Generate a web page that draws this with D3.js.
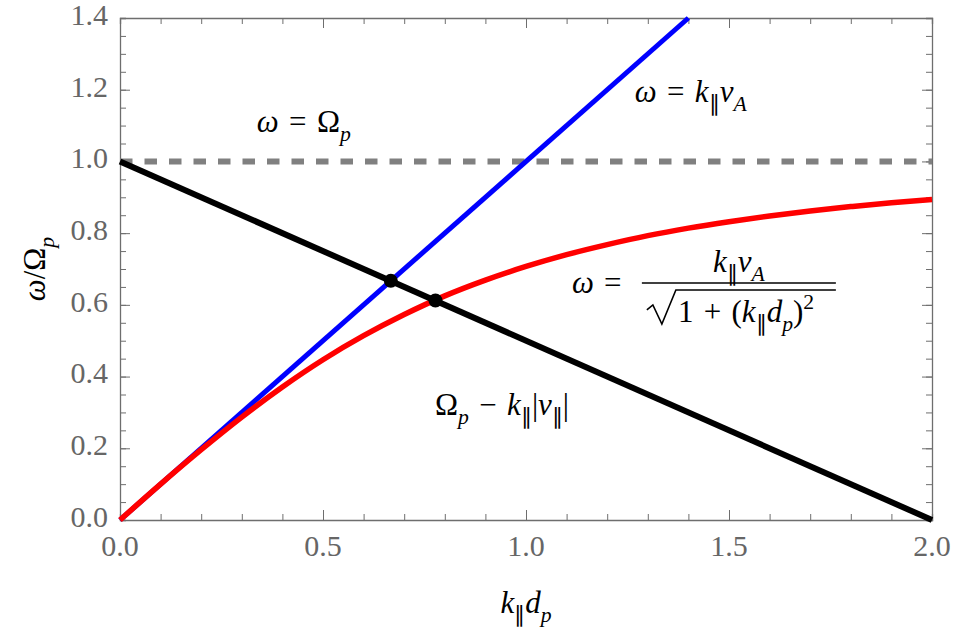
<!DOCTYPE html>
<html>
<head>
<meta charset="utf-8">
<script src="https://cdn.jsdelivr.net/npm/d3@7"></script>
<style>
  body { margin: 0; background: #fff; }
  #chart { position: relative; width: 956px; height: 637px; }
  svg { display: block; position: absolute; left: 0; top: 0; }
  .lbl { position: absolute; white-space: pre; line-height: 1; font-family: "Liberation Serif"; color: #000; }
  .tk { color: #666; }
  .sb { position: relative; top: 0.43em; font-size: 0.7em; }
  .sp { position: relative; top: -0.6em; font-size: 0.7em; }
</style>
</head>
<body>
<div id="chart"></div>
<script>
// values
const xTicks = [0, 0.5, 1.0, 1.5, 2.0];
const yTicks = [0, 0.2, 0.4, 0.6, 0.8, 1.0, 1.2, 1.4];

// k d_p samples, and the dispersive (red) curve
const kd = [0, 0.1, 0.2, 0.3, 0.4, 0.5, 0.6, 0.7, 0.8, 0.9, 1.0,
            1.1, 1.2, 1.3, 1.4, 1.5, 1.6, 1.7, 1.8, 1.9, 2.0];
const dispersive = [0, 0.10, 0.196, 0.287, 0.371, 0.447, 0.514, 0.573, 0.625, 0.669, 0.707,
                    0.740, 0.768, 0.793, 0.814, 0.832, 0.848, 0.862, 0.874, 0.885, 0.894];

// straight lines: end points
const alfven = [[0, 0], [1.4, 1.4]];
const resonance = [[0, 1.0], [2.0, 0]];
const cyclotron = [[0, 1.0], [2.0, 1.0]];

// crossing points
const crossings = [[0.667, 0.667], [0.777, 0.612]];

const width = 956, height = 637;
const margin = { top: 18, right: 24, bottom: 117, left: 120 };
const innerW = width - margin.left - margin.right;
const innerH = height - margin.top - margin.bottom;

const chart = d3.select('#chart');
const svg = chart.append('svg')
  .attr('width', width)
  .attr('height', height);

const x = d3.scaleLinear().domain([0, 2]).range([0, innerW]);
const y = d3.scaleLinear().domain([0, 1.4]).range([innerH, 0]);
// page coordinates, for the html labels
const px = v => margin.left + x(v);
const py = v => margin.top + y(v);

const g = svg.append('g')
  .attr('transform', `translate(${margin.left},${margin.top})`);

// frame ticks (inside, on all four sides), no text in these
const minorX = d3.range(0, 2.0001, 0.1);
const minorY = d3.range(0, 1.4001, 0.05);
const axisColor = '#6e6e6e';

function frameAxis(makeAxis, tf) {
  const isX = makeAxis === d3.axisTop || makeAxis === d3.axisBottom;
  const scale = isX ? x : y;
  const a = g.append('g').attr('transform', tf)
    .call(makeAxis(scale).tickValues(isX ? minorX : minorY).tickSize(6));
  a.selectAll('.tick text').remove();
  a.selectAll('.tick line').attr('stroke', axisColor);
  a.select('.domain').attr('stroke', axisColor).attr('stroke-width', 1.3);
  const m = g.append('g').attr('transform', tf)
    .call(makeAxis(scale).tickValues(isX ? xTicks : yTicks).tickSize(10));
  m.selectAll('.tick text').remove();
  m.select('.domain').remove();
  m.selectAll('.tick line').attr('stroke', axisColor);
}

frameAxis(d3.axisTop, `translate(0,${innerH})`);
frameAxis(d3.axisBottom, 'translate(0,0)');
frameAxis(d3.axisRight, 'translate(0,0)');
frameAxis(d3.axisLeft, `translate(${innerW},0)`);

const line = d3.line().x(d => x(d[0])).y(d => y(d[1]));

g.append('path').datum(cyclotron)
  .attr('d', line).attr('fill', 'none')
  .attr('stroke', '#808080').attr('stroke-width', 6)
  .attr('stroke-dasharray', '12.5 12');

g.append('path').datum(alfven)
  .attr('d', line).attr('fill', 'none')
  .attr('stroke', '#0000ff').attr('stroke-width', 5);

g.append('path').datum(kd.map((k, i) => [k, dispersive[i]]))
  .attr('d', d3.line().x(d => x(d[0])).y(d => y(d[1])).curve(d3.curveMonotoneX))
  .attr('fill', 'none')
  .attr('stroke', '#ff0000').attr('stroke-width', 5.5);

g.append('path').datum(resonance)
  .attr('d', line).attr('fill', 'none')
  .attr('stroke', '#000').attr('stroke-width', 6);

g.selectAll('circle.cross').data(crossings).enter().append('circle')
  .attr('class', 'cross')
  .attr('cx', d => x(d[0])).attr('cy', d => y(d[1]))
  .attr('r', 7).attr('fill', '#000');

// html label helper: segments [text, style] where style: i=italic, b=subscript, p=superscript
// (left, baseline) in page pixels
function htmlText(left, base, segs, size, anchor) {
  const d = chart.append('div').attr('class', 'lbl')
    .style('left', left + 'px')
    .style('top', (base - 0.8375 * size) + 'px')
    .style('font-size', size + 'px');
  if (anchor === 'middle') d.style('transform', 'translateX(-50%)');
  if (anchor === 'end') d.style('transform', 'translateX(-100%)');
  segs.forEach(s => {
    const [txt, st = ''] = s;
    const sp = d.append('span').text(txt);
    if (st.includes('i')) sp.style('font-style', 'italic');
    if (st.includes('b')) sp.attr('class', 'sb');
    if (st.includes('p')) sp.attr('class', 'sp');
  });
  return d;
}

// tick labels, placed with the scales
const fmt = d3.format('.1f');
xTicks.forEach(t => htmlText(px(t), margin.top + innerH + 36, [[fmt(t)]], 30, 'middle').classed('tk', true));
yTicks.forEach(t => htmlText(margin.left - 12, py(t) + 7, [[fmt(t)]], 30, 'end').classed('tk', true));

const fs = 31;
const par = '\u2225';
const eq = '\u2004=\u2004';

htmlText(px(0.337), py(1.082), [['ω', 'i'], [eq], ['Ω'], ['p', 'ib']], fs);
htmlText(px(1.268), py(1.166), [['ω', 'i'], [eq], ['k', 'i'], [par, 'b'], ['v', 'i'], ['A', 'ib']], fs);
htmlText(px(0.776), py(0.293), [['Ω'], ['p', 'ib'], ['\u2004\u2212\u2004'], ['k', 'i'], [par, 'b'], ['|'], ['v', 'i'], [par, 'b'], ['|']], fs);

// fraction label: bar and radical in svg, glyphs in html
const fx = x(1.113), fy = y(0.661);
const barL = fx + 70, barR = fx + 264;
g.append('line').attr('x1', barL).attr('x2', barR)
  .attr('y1', fy).attr('y2', fy).attr('stroke', '#000').attr('stroke-width', 1.5);
g.append('path')
  .attr('d', `M${barL + 5},${fy + 27} L${barL + 11},${fy + 22} L${barL + 20},${fy + 41} L${barL + 34},${fy + 7} L${barR},${fy + 7}`)
  .attr('fill', 'none').attr('stroke', '#000').attr('stroke-width', 1.6);
const ox = margin.left, oy = margin.top;
htmlText(ox + fx, oy + fy + 10, [['ω', 'i'], [eq]], fs);
htmlText(ox + (barL + barR) / 2, oy + fy - 11, [['k', 'i'], [par, 'b'], ['v', 'i'], ['A', 'ib']], fs, 'middle');
htmlText(ox + barL + 36, oy + fy + 39, [['1\u2004+\u2004('], ['k', 'i'], [par, 'b'], ['d', 'i'], ['p', 'ib'], [')'], ['2', 'p']], fs);

// axis titles
htmlText(margin.left + innerW / 2, 613, [['k', 'i'], [par, 'b'], ['d', 'i'], ['p', 'ib']], fs, 'middle');
const yt = htmlText(0, 0.8375 * fs, [['ω', 'i'], ['/Ω'], ['p', 'ib']], fs);
yt.style('transform-origin', '0 0')
  .style('transform', `translate(45px, ${margin.top + innerH / 2}px) rotate(-90deg) translate(-50%, -${0.8375 * fs}px)`);
</script>
</body>
</html>
